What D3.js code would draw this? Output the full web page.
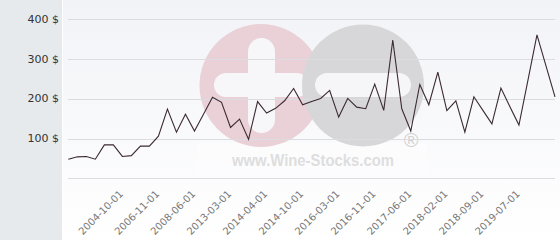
<!DOCTYPE html>
<html><head><meta charset="utf-8">
<script src="https://cdn.jsdelivr.net/npm/d3@7"></script>
<style>html,body{margin:0;padding:0;background:#fff;}svg{display:block;}</style>
</head><body>
<svg id="c" width="560" height="240"></svg>
<script>
const values = [48,54,55,48,84,84,55,57,81,81,106,174,116,161,119,161,204,191,128,149,98,193,164,176,195,226,185,193,201,221,154,201,179,175,237,171,348,175,119,236,185,267,170,195,116,205,171,137,227,180,134,247,361,283,205];
const categories = values.map(() => "");
const labeledDates = ["2004-10-01","2006-11-01","2008-06-01","2013-03-01","2014-04-01","2014-10-01","2016-03-01","2016-11-01","2017-06-01","2018-02-01","2018-09-01","2019-07-01"];
labeledDates.forEach((d, i) => { categories[6 + i * 4] = d; });
const yTicks = [0,100,200,300,400];
const yTickLabels = ["", "100 $", "200 $", "300 $", "400 $"];

const svg = d3.select("#c");
const W = 560, H = 240;
const defs = svg.append("defs");
const g1 = defs.append("linearGradient").attr("id","bg").attr("x1",0).attr("y1",0).attr("x2",0).attr("y2",1);
g1.append("stop").attr("offset","0%").attr("stop-color","#f2f3f7");
g1.append("stop").attr("offset","100%").attr("stop-color","#ffffff");

svg.append("rect").attr("x",0).attr("y",0).attr("width",62).attr("height",H).attr("fill","#e6eaed");
svg.append("rect").attr("x",62).attr("y",0).attr("width",1).attr("height",H).attr("fill","#ffffff");
svg.append("rect").attr("x",63).attr("y",0).attr("width",W-63).attr("height",H).attr("fill","url(#bg)");

const x = d3.scalePoint().domain(d3.range(values.length)).range([68.3, 555]);
const y = d3.scaleLinear().domain([0,400]).range([178.3, 19.3]);

// watermark
const wm = svg.append("g");
wm.append("rect").attr("x",197).attr("y",143).attr("width",230).attr("height",31).attr("fill","#ffffff").attr("opacity",0.4);
wm.append("circle").attr("cx",261).attr("cy",85.5).attr("r",61.5).attr("fill","#e9d1d7");
wm.append("rect").attr("x",248).attr("y",38).attr("width",27).attr("height",95).attr("rx",13.5).attr("fill","#f7f7fa");
wm.append("rect").attr("x",214).attr("y",73).attr("width",95).attr("height",24).attr("rx",12).attr("fill","#f7f7fa");
wm.append("circle").attr("cx",363).attr("cy",85.5).attr("r",61).attr("fill","#d7d7d9");
wm.append("rect").attr("x",315).attr("y",73).attr("width",96).attr("height",24).attr("rx",12).attr("fill","#f6f6f8");
wm.append("text").attr("x",232).attr("y",165.5).attr("textLength",162).attr("lengthAdjust","spacingAndGlyphs")
  .attr("font-family","Liberation Sans, Arial, sans-serif").attr("font-weight","bold").attr("font-size",17)
  .attr("fill","#dedede").text("www.Wine-Stocks.com");
wm.append("text").attr("x",411).attr("y",147).attr("text-anchor","middle")
  .attr("font-family","Liberation Sans, Arial, sans-serif").attr("font-size",20)
  .attr("fill","#d2d2d2").text("®");

// grid
const grid = svg.append("g");
grid.selectAll("line").data(yTicks).join("line")
  .attr("x1",68).attr("x2",555)
  .attr("y1",d=>Math.round(y(d))+0.5).attr("y2",d=>Math.round(y(d))+0.5)
  .attr("stroke","#dcdce0").attr("stroke-width",1);

// y labels
svg.append("g").selectAll("text").data(yTicks).join("text")
  .attr("x",59).attr("y",d=>y(d)).attr("dy","0.33em").attr("text-anchor","end")
  .attr("font-family","DejaVu Sans, sans-serif").attr("font-size",11).attr("fill","#333")
  .text((d,i)=>yTickLabels[i]);

// x labels
svg.append("g").selectAll("text").data(d3.range(values.length).filter(i=>categories[i]))
  .join("text")
  .attr("transform",i=>`translate(${x(i)-1},${192}) rotate(-45)`)
  .attr("text-anchor","end").attr("dy","0.35em")
  .attr("font-family","DejaVu Sans, sans-serif").attr("font-size",10).attr("fill","#777")
  .text(i=>categories[i]);

// line
svg.append("path").datum(values)
  .attr("d", d3.line().x((d,i)=>x(i)).y(d=>y(d)))
  .attr("fill","none").attr("stroke","#3b2a33").attr("stroke-width",1.1);
</script>
</body></html>
